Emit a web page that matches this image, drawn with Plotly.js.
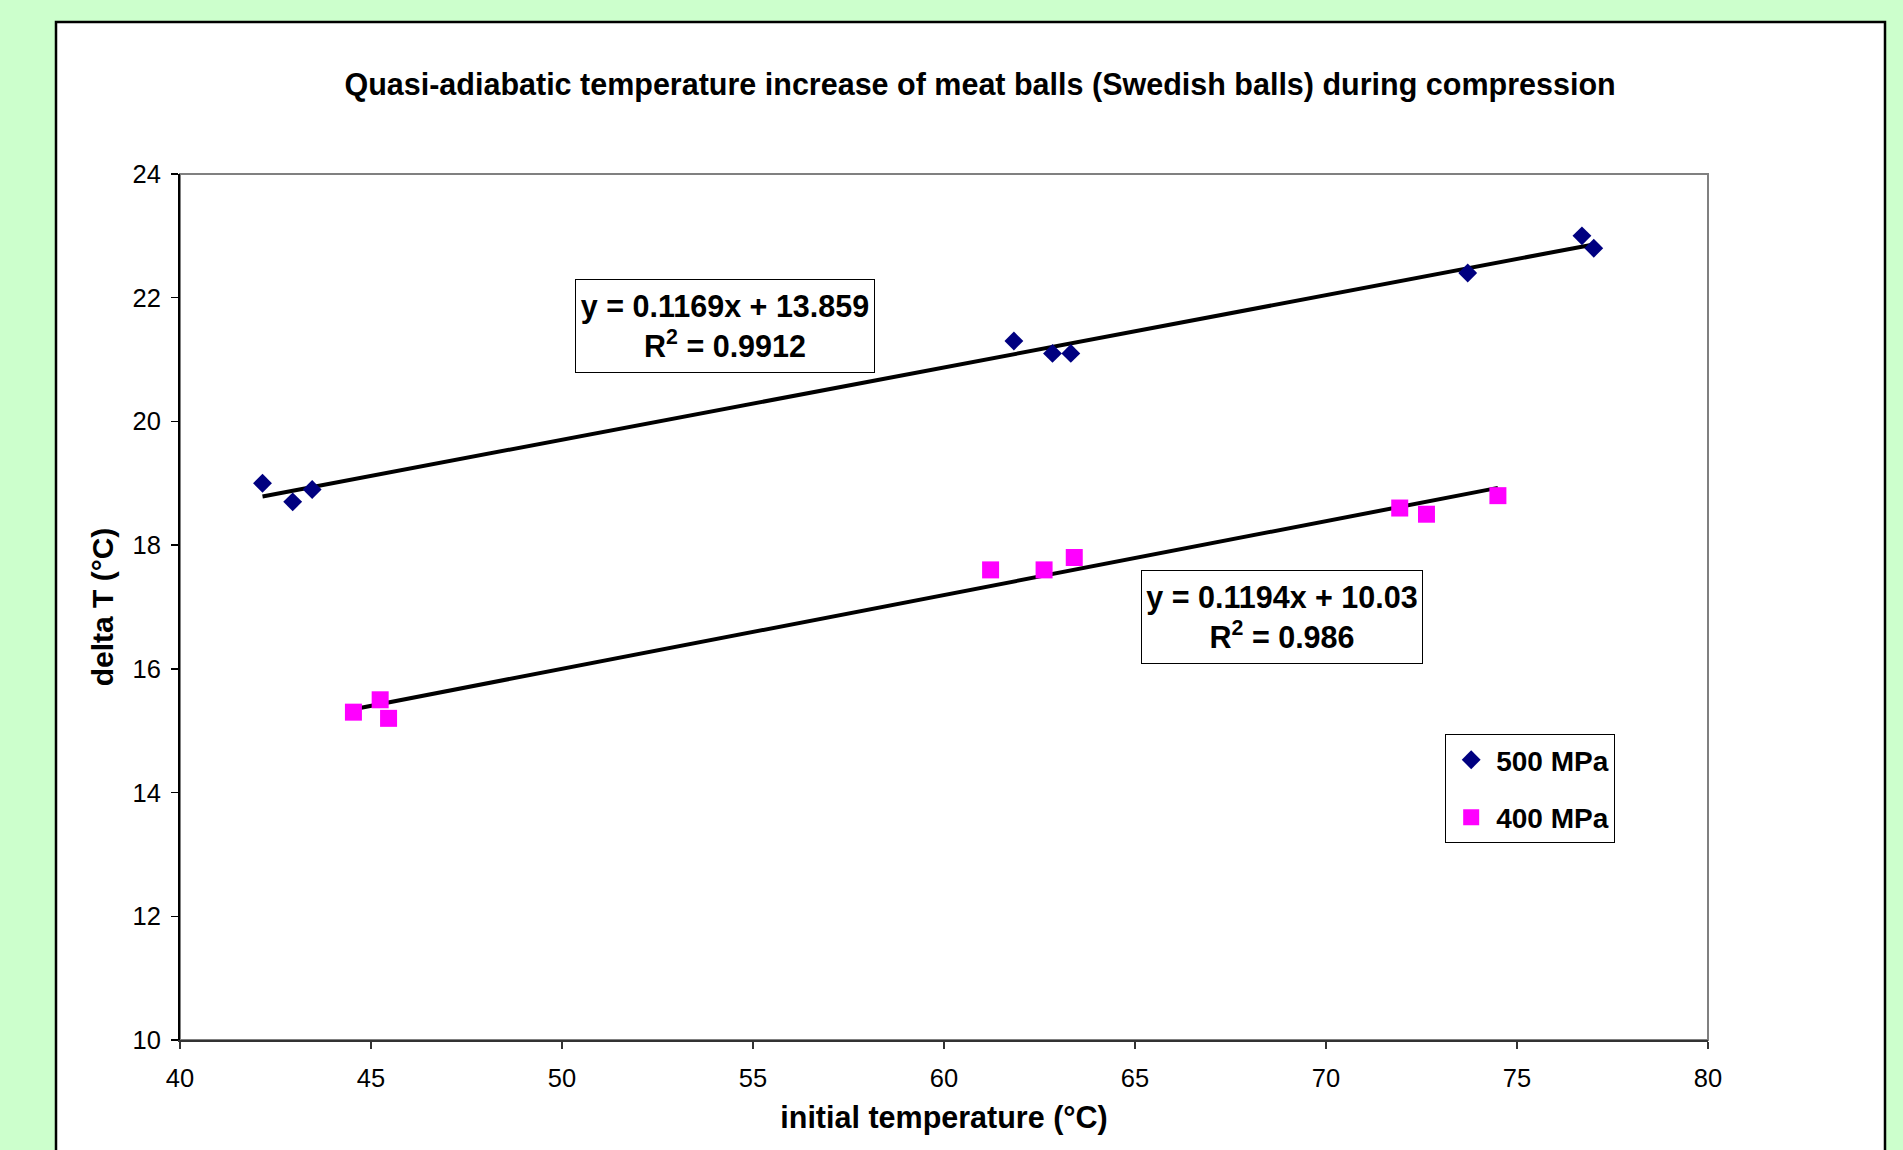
<!DOCTYPE html>
<html>
<head>
<meta charset="utf-8">
<script src="https://cdn.plot.ly/plotly-3.0.1.min.js"></script>
<style>
  html, body { margin: 0; padding: 0; background: #CCFFCC; }
  #chart { width: 1903px; height: 1150px; }
</style>
</head>
<body>
<div id="chart"></div>
<script>
// ---- data ----
const seriesNames = ["500 MPa", "400 MPa"];

const x500 = [42.16, 42.95, 43.46, 61.83, 62.84, 63.32, 73.71, 76.70, 77.01];
const y500 = [19.0, 18.7, 18.9, 21.3, 21.1, 21.1, 22.4, 23.0, 22.8];

const x400 = [44.54, 45.24, 45.46, 61.22, 62.62, 63.41, 71.93, 72.63, 74.50];
const y400 = [15.3, 15.5, 15.2, 17.6, 17.6, 17.8, 18.6, 18.5, 18.8];

// linear trendline coefficients shown on the chart
const slope500 = 0.1169, intercept500 = 13.859, r2_500 = 0.9912;
const slope400 = 0.1194, intercept400 = 10.03,  r2_400 = 0.986;

const xTicks = [40, 45, 50, 55, 60, 65, 70, 75, 80];
const yTicks = [10, 12, 14, 16, 18, 20, 22, 24];

// ---- build traces ----
function trend(xs, m, b) {
  const lo = Math.min(...xs), hi = Math.max(...xs);
  return { x: [lo, hi], y: [m * lo + b, m * hi + b] };
}
const t500 = trend(x500, slope500, intercept500);
const t400 = trend(x400, slope400, intercept400);

const font = "Liberation Sans, Arial, sans-serif";

const traces = [
  {
    x: t500.x, y: t500.y, mode: "lines", type: "scatter",
    line: { color: "#000000", width: 4 }, showlegend: false, hoverinfo: "skip"
  },
  {
    x: t400.x, y: t400.y, mode: "lines", type: "scatter",
    line: { color: "#000000", width: 4 }, showlegend: false, hoverinfo: "skip"
  },
  {
    x: x500, y: y500, mode: "markers", type: "scatter", name: seriesNames[0],
    legendgroup: "a",
    marker: { symbol: "diamond", size: 14.5, color: "#000080", line: { width: 0 } }
  },
  {
    x: x400, y: y400, mode: "markers", type: "scatter", name: seriesNames[1],
    legendgroup: "b",
    marker: { symbol: "square", size: 17, color: "#FF00FF", line: { width: 0 } }
  }
];

const layout = {
  width: 1903, height: 1150,
  paper_bgcolor: "#CCFFCC",
  plot_bgcolor: "#FFFFFF",
  margin: { l: 180, r: 195, t: 174, b: 110, pad: 0 },
  font: { family: font, color: "#000000" },
  title: {
    text: "<b>Quasi-adiabatic temperature increase of meat balls (Swedish balls) during compression</b>",
    font: { family: font, size: 30.5, color: "#000000" },
    xref: "container", x: 0.515, xanchor: "center",
    yref: "container", y: 1 - 84 / 1150, yanchor: "middle"
  },
  xaxis: {
    range: [40, 80], tickvals: xTicks, ticktext: xTicks.map(String),
    showgrid: false, zeroline: false,
    showline: true, linecolor: "#333333", linewidth: 2,
    ticks: "outside", ticklen: 7, tickwidth: 1.5, tickcolor: "#333333",
    tickfont: { family: font, size: 25.5, color: "#000000" },
    ticklabelstandoff: 7,
    title: { text: "<b>initial temperature (°C)</b>", font: { family: font, size: 30.5, color: "#000000" }, standoff: 16 },
    automargin: false, fixedrange: true
  },
  yaxis: {
    range: [10, 24], tickvals: yTicks, ticktext: yTicks.map(String),
    showgrid: false, zeroline: false,
    showline: true, linecolor: "#000000", linewidth: 2,
    ticks: "outside", ticklen: 7, tickwidth: 1.5, tickcolor: "#000000",
    tickfont: { family: font, size: 25.5, color: "#000000" },
    ticklabelstandoff: 5,
    title: { text: "<b>delta T (°C)</b>", font: { family: font, size: 30, color: "#000000" }, standoff: 10 },
    automargin: false, fixedrange: true
  },
  legend: {
    x: 0.828, xanchor: "left", y: 0.3533, yanchor: "top",
    bgcolor: "#FFFFFF", bordercolor: "#000000", borderwidth: 1,
    font: { family: font, size: 28, color: "#000000", weight: "bold" },
    tracegroupgap: 18, itemwidth: 40,
    entrywidth: 172, entrywidthmode: "pixels"
  },
  shapes: [
    { type: "rect", xref: "paper", yref: "paper",
      x0: (56 - 180) / 1528, x1: (1885 - 180) / 1528,
      y0: -0.2, y1: (1040 - 22) / 866,
      fillcolor: "#FFFFFF", line: { color: "#000000", width: 2.5 }, layer: "below" },
    { type: "rect", xref: "paper", yref: "paper", x0: 0, x1: 1, y0: 0, y1: 1,
      fillcolor: "rgba(0,0,0,0)", line: { color: "#808080", width: 2 }, layer: "below" }
  ],
  annotations: [
    { xref: "x", yref: "y", x: 54.26, y: 21.55, showarrow: false,
      text: "<b>y = " + slope500 + "x + " + intercept500 + "</b><br><b>R<sup>2</sup> = " + r2_500 + "</b>",
      font: { family: font, size: 30.5, color: "#000000" },
      bgcolor: "#FFFFFF", bordercolor: "#000000", borderwidth: 1, borderpad: 3,
      width: 292, height: 86, align: "center", valign: "middle" },
    { xref: "x", yref: "y", x: 68.84, y: 16.84, showarrow: false,
      text: "<b>y = " + slope400 + "x + " + intercept400 + "</b><br><b>R<sup>2</sup> = " + r2_400 + "</b>",
      font: { family: font, size: 30.5, color: "#000000" },
      bgcolor: "#FFFFFF", bordercolor: "#000000", borderwidth: 1, borderpad: 3,
      width: 274, height: 86, align: "center", valign: "middle" }
  ],
  showlegend: true
};

Plotly.newPlot("chart", traces, layout, { displayModeBar: false, staticPlot: true });
</script>
</body>
</html>
